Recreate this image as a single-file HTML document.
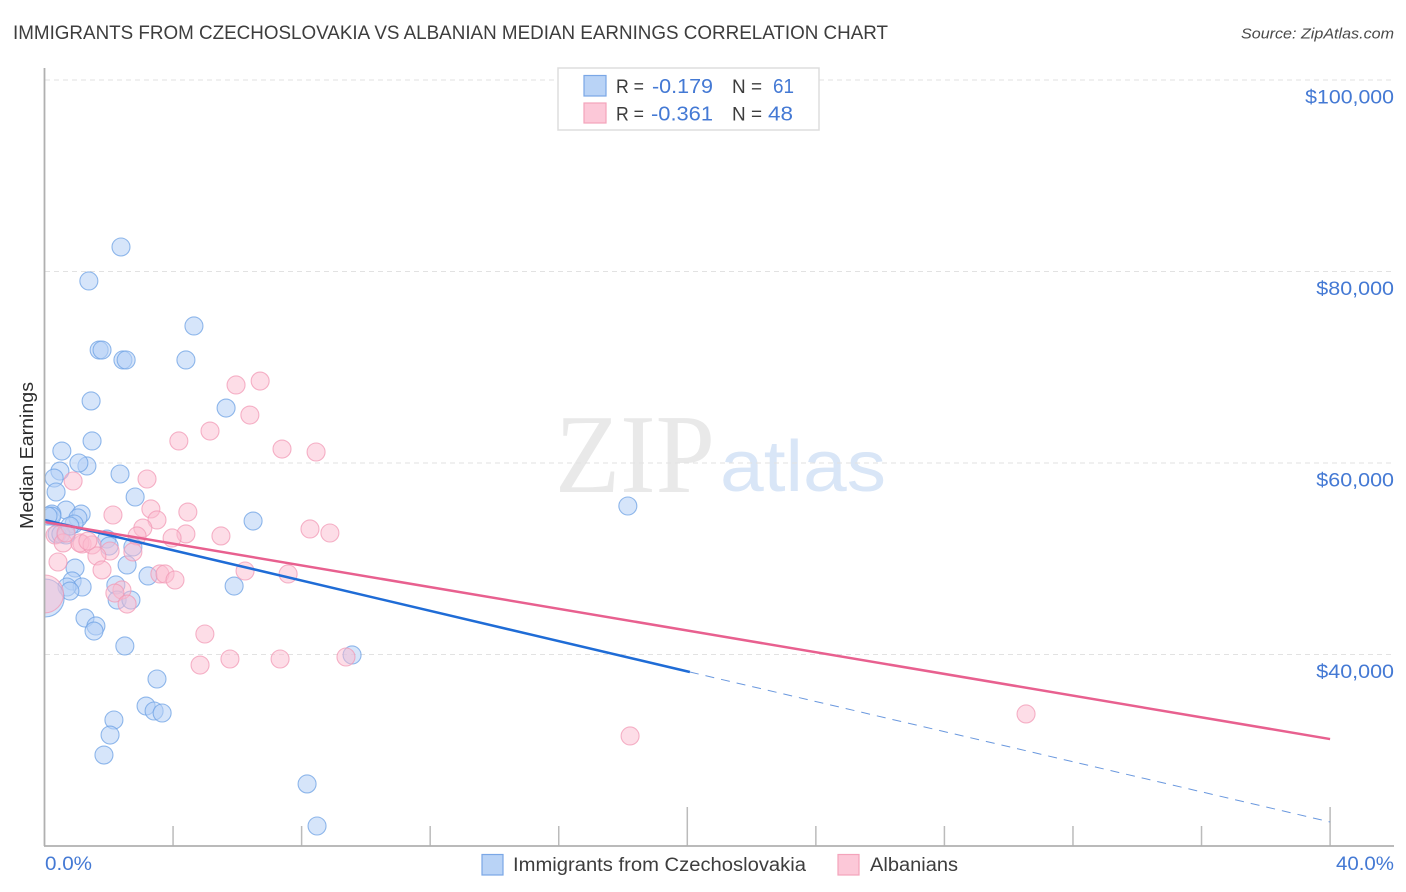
<!DOCTYPE html>
<html lang="en">
<head>
<meta charset="utf-8">
<title>Immigrants from Czechoslovakia vs Albanian Median Earnings Correlation Chart</title>
<style>
  html, body { margin: 0; padding: 0; background: #fff; }
  body { width: 1406px; height: 892px; overflow: hidden; }
  svg { display: block; font-family: "Liberation Sans", sans-serif; }
  text { white-space: pre; }
</style>
</head>
<body>
<svg id="chart" xmlns="http://www.w3.org/2000/svg" width="1406" height="892" viewBox="0 0 1406 892">
  <defs>
    <clipPath id="plot-clip"><rect x="45" y="60" width="1349" height="786"></rect></clipPath>
  </defs>
  <rect x="0" y="0" width="1406" height="892" fill="#ffffff"></rect>
  <text x="13" y="39" font-size="19" fill="#3d3d3d" textLength="875" lengthAdjust="spacingAndGlyphs">IMMIGRANTS FROM CZECHOSLOVAKIA VS ALBANIAN MEDIAN EARNINGS CORRELATION CHART</text>
  <text x="1241" y="38.5" font-size="15" font-style="italic" fill="#4a4a4a" textLength="153" lengthAdjust="spacingAndGlyphs">Source: ZipAtlas.com</text>
  <g>
    <text x="555" y="492" font-family="'Liberation Serif', serif" font-size="112" fill="#e9e9e9" textLength="160" lengthAdjust="spacingAndGlyphs">ZIP</text>
    <text x="720" y="491" font-size="72" fill="#d9e6f7" textLength="166" lengthAdjust="spacingAndGlyphs">atlas</text>
  </g>
  <g id="grid"></g>
  <g id="x-ticks"></g>
  <g id="y-labels"></g>
  <g id="points" clip-path="url(#plot-clip)"></g>
  <g id="trends"></g>
  <line x1="44.5" y1="68" x2="44.5" y2="846" stroke="#b0b0b0" stroke-width="1.8"></line>
  <line x1="44" y1="846" x2="1394" y2="846" stroke="#b0b0b0" stroke-width="1.8"></line>
  <text transform="translate(33,529) rotate(-90)" font-size="18" fill="#2c2c2c" textLength="147" lengthAdjust="spacingAndGlyphs">Median Earnings</text>
  <text x="45" y="870" font-size="19" fill="#4479d4" textLength="47" lengthAdjust="spacingAndGlyphs">0.0%</text>
  <text x="1336" y="870" font-size="19" fill="#4479d4" textLength="58" lengthAdjust="spacingAndGlyphs">40.0%</text>

  <g>
    <rect x="558" y="68" width="261" height="62" fill="#ffffff" stroke="#dddddd" stroke-width="1.5"></rect>
    <rect x="584" y="75.5" width="22" height="20.5" fill="#b9d3f6" stroke="#7aa7e6" stroke-width="1.2"></rect>
    <rect x="584" y="103" width="22" height="20" fill="#fcc8d8" stroke="#f4a3bb" stroke-width="1.2"></rect>
    <text x="616" y="93" font-size="19.5" fill="#3d3d3d" textLength="28" lengthAdjust="spacingAndGlyphs">R =</text>
    <text x="652" y="93" font-size="20" fill="#4479d4" textLength="61" lengthAdjust="spacingAndGlyphs">-0.179</text>
    <text x="732" y="93" font-size="19.5" fill="#3d3d3d" textLength="30" lengthAdjust="spacingAndGlyphs">N =</text>
    <text x="773" y="93" font-size="20" fill="#4479d4" textLength="21" lengthAdjust="spacingAndGlyphs">61</text>
    <text x="616" y="120.5" font-size="19.5" fill="#3d3d3d" textLength="28" lengthAdjust="spacingAndGlyphs">R =</text>
    <text x="651" y="120.5" font-size="20" fill="#4479d4" textLength="62" lengthAdjust="spacingAndGlyphs">-0.361</text>
    <text x="732" y="120.5" font-size="19.5" fill="#3d3d3d" textLength="30" lengthAdjust="spacingAndGlyphs">N =</text>
    <text x="768" y="120.5" font-size="20" fill="#4479d4" textLength="25" lengthAdjust="spacingAndGlyphs">48</text>
  </g>

  <g>
    <rect x="482" y="854.5" width="21" height="20.5" fill="#b9d3f6" stroke="#7aa7e6" stroke-width="1.2"></rect>
    <text x="513" y="871" font-size="19" fill="#3d3d3d" textLength="293" lengthAdjust="spacingAndGlyphs">Immigrants from Czechoslovakia</text>
    <rect x="838" y="854.5" width="21" height="20.5" fill="#fcc8d8" stroke="#f4a3bb" stroke-width="1.2"></rect>
    <text x="870" y="871" font-size="19" fill="#3d3d3d" textLength="88" lengthAdjust="spacingAndGlyphs">Albanians</text>
  </g>
</svg>
<script>
const yTickValues = [40000, 60000, 80000, 100000];
const yTickLabels = ["$40,000", "$60,000", "$80,000", "$100,000"];
const xTickValues = [4, 8, 12, 16, 20, 24, 28, 32, 36, 40];
const xMajorTicks = [20, 40];

const czechX = [2.38,1.38,4.65,1.70,1.79,2.44,2.54,4.40,1.45,5.65,1.48,0.54,1.32,1.07,0.48,2.35,0.30,0.36,2.82,18.15,0.67,1.14,0.23,0.23,1.04,0.92,6.49,0.39,0.51,0.67,1.94,2.01,2.75,2.57,0.95,3.22,0.86,2.22,1.17,0.70,0.79,5.90,2.26,2.69,1.26,1.60,1.54,2.50,9.57,3.50,3.16,3.41,3.66,2.16,2.04,1.85,8.17,8.48,0.02,0.11,0.79];
const czechY = [82560,79010,74310,71800,71800,70760,70760,70760,66480,65740,62300,61250,59690,60000,59160,58850,58430,56970,56450,55510,55090,54670,54670,54460,54260,53630,53940,52590,52590,52480,52060,51330,51230,49350,49030,48200,47680,47260,47050,47050,46630,47150,45690,45690,43810,42980,42450,40890,39950,37440,34620,34100,33890,33160,31590,29500,26480,22090,45900,54460,53420];
const czechLargePoint = 58;

const albanianX = [6.71,5.96,6.39,5.15,4.18,7.39,8.45,3.19,0.89,2.13,3.31,4.46,3.50,3.06,8.26,8.88,4.40,5.49,3.97,2.88,0.33,0.58,1.17,1.10,1.48,2.04,1.63,0.42,1.79,2.75,6.24,7.58,3.59,3.75,4.06,2.41,2.19,2.57,4.99,4.84,5.77,7.33,9.38,30.54,18.22,0.00,1.35,0.67];
const albanianY = [68560,68150,65010,63340,62300,61460,61150,58330,58120,54570,55200,54880,54050,53210,53110,52690,52590,52380,52170,52380,52480,51650,51540,51650,51440,50810,50290,49660,48830,50710,48720,48410,48410,48410,47780,46740,46420,45270,42140,38900,39530,39530,39740,33790,31490,46320,51850,52690];
const albanianLargePoint = 45;

const czechTrendX = [0, 20.08];
const czechTrendY = [54050, 38170];
const czechDashX = [20.08, 40];
const czechDashY = [38170, 22510];
const albanianTrendX = [0, 40];
const albanianTrendY = [53840, 31170];

const SVG_NS = "http://www.w3.org/2000/svg";
const xScale = function (v) { return 44.5 + v * 32.14; };
const yScale = function (v) { return 654.5 - (v - 40000) * 191.5 / 20000; };

function make(tag, attrs, parent) {
  const el = document.createElementNS(SVG_NS, tag);
  Object.keys(attrs).forEach(function (k) { el.setAttribute(k, attrs[k]); });
  parent.appendChild(el);
  return el;
}

const gridGroup = document.getElementById("grid");
const yLabelGroup = document.getElementById("y-labels");
yTickValues.forEach(function (v, i) {
  const line = make("line", { x1: 45, x2: 1394, y1: yScale(v), y2: yScale(v), stroke: "#e2e2e2", "stroke-width": 1, "stroke-dasharray": "5 4" }, gridGroup);
  
  
  const label = make("text", { x: 1394, y: yScale(v) + 23.5, "font-size": 19.5, fill: "#4479d4", "text-anchor": "end", textLength: yTickLabels[i].length * 11.1, lengthAdjust: "spacingAndGlyphs" }, yLabelGroup);
  label.textContent = yTickLabels[i];
  
  
});

const xTickGroup = document.getElementById("x-ticks");
xTickValues.forEach(function (v) {
  const top = xMajorTicks.indexOf(v) >= 0 ? 807 : 826;
  const tick = make("line", { x1: xScale(v), x2: xScale(v), y1: top, y2: 846, stroke: "#bbbbbb", "stroke-width": 1.5 }, xTickGroup);
  
  
});

const pointGroup = document.getElementById("points");
czechX.forEach(function (x, i) {
  const dot = make("circle", { cx: xScale(x), cy: yScale(czechY[i]), r: i === czechLargePoint ? 19 : 9, fill: "#b4d0f6", "fill-opacity": 0.55, stroke: "#6ea2e4", "stroke-opacity": 0.75, "stroke-width": 1.1 }, pointGroup);
  
  
});
albanianX.forEach(function (x, i) {
  const dot = make("circle", { cx: xScale(x), cy: yScale(albanianY[i]), r: i === albanianLargePoint ? 19 : 9, fill: "#fbbccf", "fill-opacity": 0.5, stroke: "#f19ab5", "stroke-opacity": 0.75, "stroke-width": 1.1 }, pointGroup);
  
  
});

const trendGroup = document.getElementById("trends");
const dashLine = make("line", { x1: xScale(czechDashX[0]), y1: yScale(czechDashY[0]), x2: xScale(czechDashX[1]), y2: yScale(czechDashY[1]), stroke: "#6a98de", "stroke-width": 1, "stroke-dasharray": "9 7" }, trendGroup);


const czechLine = make("line", { x1: xScale(czechTrendX[0]), y1: yScale(czechTrendY[0]), x2: xScale(czechTrendX[1]), y2: yScale(czechTrendY[1]), stroke: "#1f6cd6", "stroke-width": 2.5 }, trendGroup);


const albanianLine = make("line", { x1: xScale(albanianTrendX[0]), y1: yScale(albanianTrendY[0]), x2: xScale(albanianTrendX[1]), y2: yScale(albanianTrendY[1]), stroke: "#e8608f", "stroke-width": 2.5 }, trendGroup);


</script>
</body>
</html>
